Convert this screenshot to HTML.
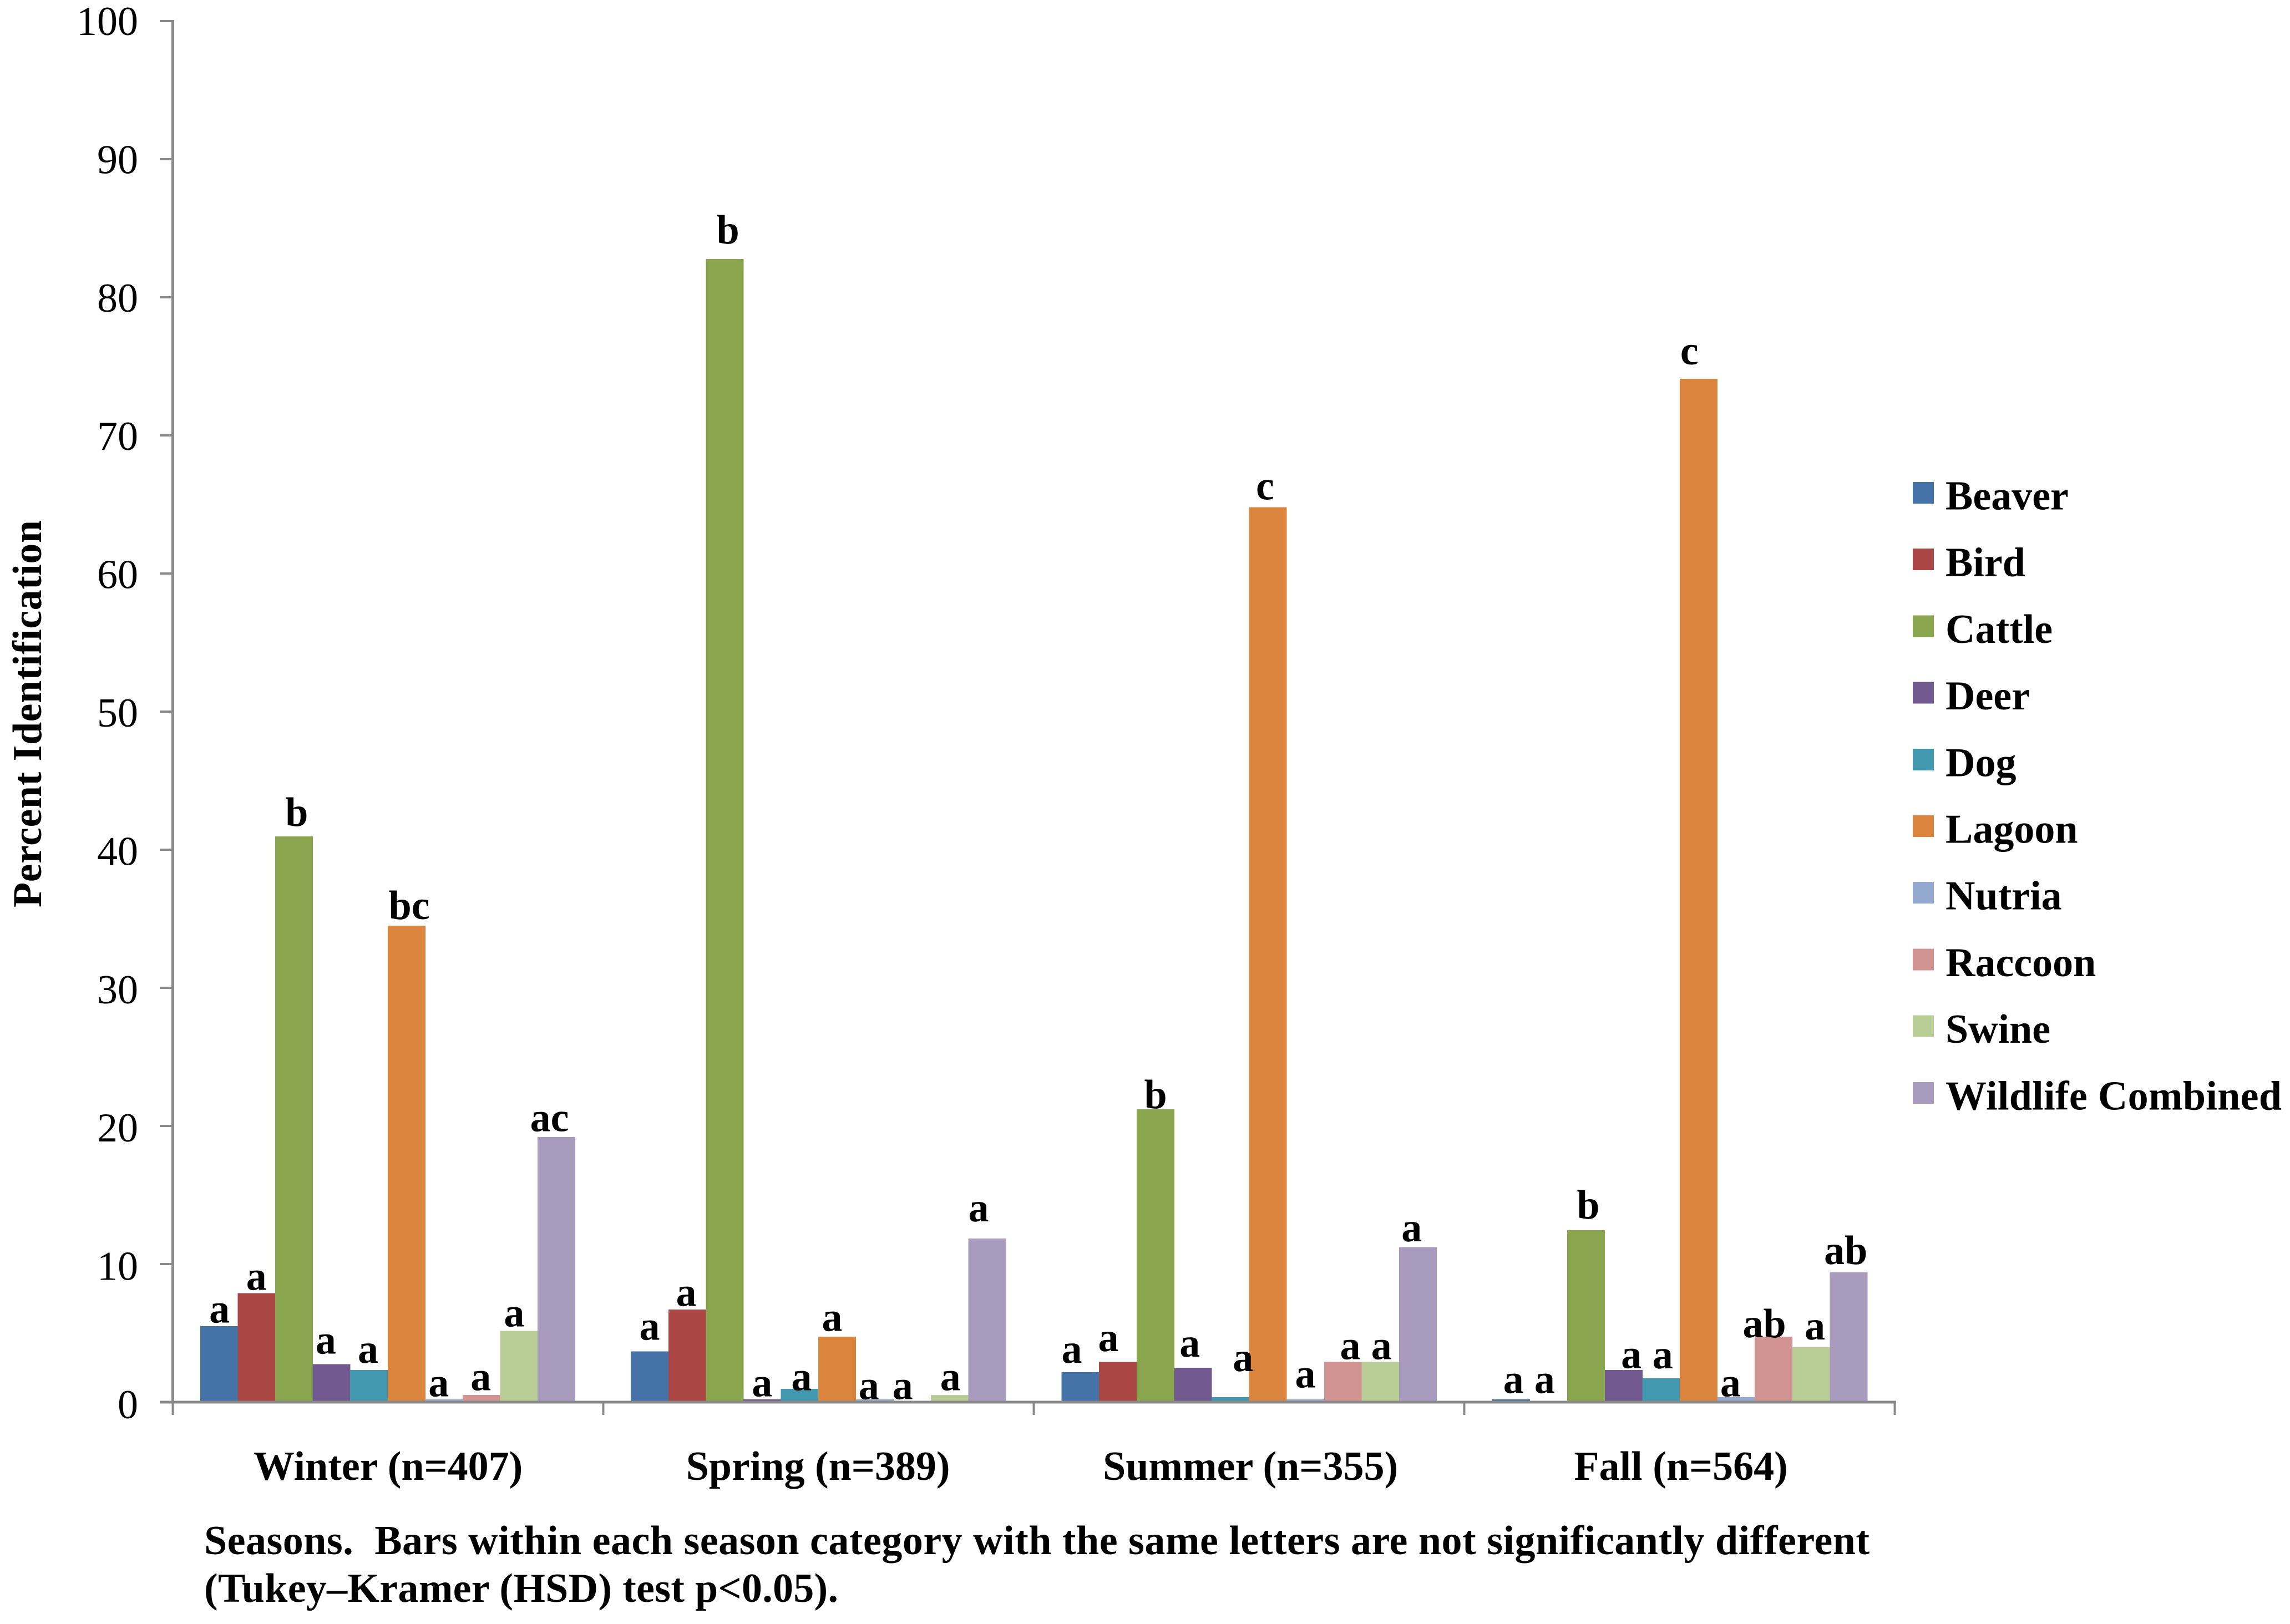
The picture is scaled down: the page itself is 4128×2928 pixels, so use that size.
<!DOCTYPE html>
<html lang="en">
<head>
<meta charset="utf-8">
<title>Percent Identification by Season</title>
<style>
html,body{margin:0;padding:0;background:#fff;}
svg{display:block;}
text{font-family:"Liberation Serif",serif;font-size:74px;fill:#000;}
.b{font-weight:bold;}
</style>
</head>
<body>
<svg id="chart" xmlns="http://www.w3.org/2000/svg" width="4128" height="2928" viewBox="0 0 4128 2928">
  <rect x="0" y="0" width="4128" height="2928" fill="#ffffff"/>
  <g id="bars" shape-rendering="crispEdges"></g>
  <g id="axes" shape-rendering="crispEdges"></g>
  <g id="tick-labels"></g>
  <g id="letters"></g>
  <text class="b" transform="translate(74,1636) rotate(-90)" textLength="698" lengthAdjust="spacing">Percent Identification</text>
  <g id="legend"></g>
  <text class="b" x="368" y="2802" textLength="3002" lengthAdjust="spacing">Seasons.&#160; Bars within each season category with the same letters are not significantly different</text>
  <text class="b" x="368" y="2888" textLength="1143" lengthAdjust="spacing">(Tukey–Kramer (HSD) test p&lt;0.05).</text>
</svg>
<script>
const seasons = ["Winter (n=407)", "Spring (n=389)", "Summer (n=355)", "Fall (n=564)"];
const species = ["Beaver", "Bird", "Cattle", "Deer", "Dog", "Lagoon", "Nutria", "Raccoon", "Swine", "Wildlife Combined"];
const yTicks = [0, 10, 20, 30, 40, 50, 60, 70, 80, 90, 100];
const winterValues = [5.5, 7.9, 40.96, 2.76, 2.32, 34.5, 0.2, 0.52, 5.17, 19.2];
const springValues = [3.68, 6.7, 82.77, 0.2, 0.96, 4.74, 0.2, 0, 0.52, 11.85];
const summerValues = [2.16, 2.92, 21.2, 2.48, 0.36, 64.8, 0.2, 2.92, 2.92, 11.23];
const fallValues = [0.2, 0, 12.45, 2.32, 1.72, 74.1, 0.36, 4.74, 3.98, 9.39];
const winterLetters = ["a", "a", "b", "a", "a", "bc", "a", "a", "a", "ac"];
const springLetters = ["a", "a", "b", "a", "a", "a", "a", "a", "a", "a"];
const summerLetters = ["a", "a", "b", "a", "a", "c", "a", "a", "a", "a"];
const fallLetters = ["a", "a", "b", "a", "a", "c", "a", "ab", "a", "ab"];

const allValues = [winterValues, springValues, summerValues, fallValues];
const allLetters = [winterLetters, springLetters, summerLetters, fallLetters];

/* layout constants */
const SWATCH_COLORS = ["#4573a7", "#aa4644", "#89a54e", "#71588f", "#4298af", "#db843d", "#93a9cf", "#d19392", "#b9cd96", "#a99bbd"];
const NUDGE = [
  [[1,-6.5],[0,-6],[5,-19],[-10,-19],[-1.5,-13.4],[5,-12],[-9.5,-5.5],[-1,-8.5],[-8.5,-8],[-12.4,-10.4]],
  [[0,-21],[-1.5,-6.5],[6,-28],[0,-5.5],[3.5,2.5],[-9,-10.4],[-10.4,-0.5],[-17,-5.5],[1.5,-8.5],[-15.4,-31]],
  [[-15.4,-17.4],[-17,-19.4],[0.5,-2],[-5.5,-20.4],[23,-47],[-5,-14],[0,-21.4],[13.4,-5],[2,-5],[-11,-10.4]],
  [[4.5,-11.4],[-7,-16.4],[4,-21],[14,-3.5],[3,-18.4],[-16.5,-26],[-10,-1.5],[-16.4,1],[7,-14],[-5,-15]]
];
const CAT_LABEL_SHIFT = [0, -1, 2.5, 2.5];
const NS = "http://www.w3.org/2000/svg";
const Y_ZERO = 2528, PX_PER_UNIT = 24.9;
const AXIS_LEFT = 311.6, CAT_WIDTH = 776, BAR_START = 360.8, CAT_STEP = 776.4, BAR_WIDTH = 67.6;
const AXIS_COLOR = "#898989";

function yScale(v) { return Y_ZERO - v * PX_PER_UNIT; }
function barLeft(c, i) { return BAR_START + c * CAT_STEP + i * BAR_WIDTH; }
function catCenter(c) { return AXIS_LEFT + (c + 0.5) * CAT_WIDTH; }
function make(tag, parent, attrs, txt) {
  const el = document.createElementNS(NS, tag);
  for (const k in attrs) el.setAttribute(k, attrs[k]);
  if (txt !== undefined) el.textContent = txt;
  parent.appendChild(el);
  return el;
}

const barsG = document.getElementById("bars");
const axesG = document.getElementById("axes");
const tickG = document.getElementById("tick-labels");
const lettersG = document.getElementById("letters");
const legendG = document.getElementById("legend");

allValues.forEach(function (vals, c) {
  vals.forEach(function (v, i) {
    const top = yScale(v);
    const left = barLeft(c, i);
    const bar = make("rect", barsG, { x: left, y: top, width: BAR_WIDTH + 0.4, height: Y_ZERO - top, fill: SWATCH_COLORS[i] });
    
    
    const label = make("text", lettersG, {
      "class": "b",
      x: left + BAR_WIDTH / 2 + NUDGE[c][i][0],
      y: top + NUDGE[c][i][1],
      "text-anchor": "middle"
    }, allLetters[c][i]);
    
    
  });
});

const yAxisLine = make("rect", axesG, { x: AXIS_LEFT - 2.5, y: yScale(100) - 2, width: 5, height: Y_ZERO - yScale(100) + 4, fill: AXIS_COLOR });


const xAxisLine = make("rect", axesG, { x: 288, y: Y_ZERO - 2.3, width: 3418 - 288, height: 4.6, fill: AXIS_COLOR });



yTicks.forEach(function (t) {
  const tick = make("rect", axesG, { x: 288, y: yScale(t) - 2, width: AXIS_LEFT - 288, height: 4.2, fill: AXIS_COLOR });
  
  
  const lab = make("text", tickG, { x: 249, y: yScale(t) + 29 - t * 0.04, "text-anchor": "end" }, String(t));
  
  
});

for (let k = 0; k <= seasons.length; k++) {
  const tick = make("rect", axesG, { x: AXIS_LEFT + k * CAT_WIDTH - 2, y: Y_ZERO, width: 4, height: 23, fill: AXIS_COLOR });
  
  
}

seasons.forEach(function (s, c) {
  const lab = make("text", tickG, { "class": "b", x: catCenter(c) + CAT_LABEL_SHIFT[c], y: 2668, "text-anchor": "middle" }, s);
  
  
});

species.forEach(function (s, i) {
  const rowY = 869 + i * 120.2;
  const sw = make("rect", legendG, { x: 3448, y: rowY, width: 38, height: 39, fill: SWATCH_COLORS[i], "shape-rendering": "crispEdges" });
  
  
  const attrs = { "class": "b", x: 3507, y: rowY + 49.5 };
  if (i === species.length - 1) { attrs.textLength = 606; attrs.lengthAdjust = "spacing"; }
  const lab = make("text", legendG, attrs, s);
  
  
});
</script>
</body>
</html>
